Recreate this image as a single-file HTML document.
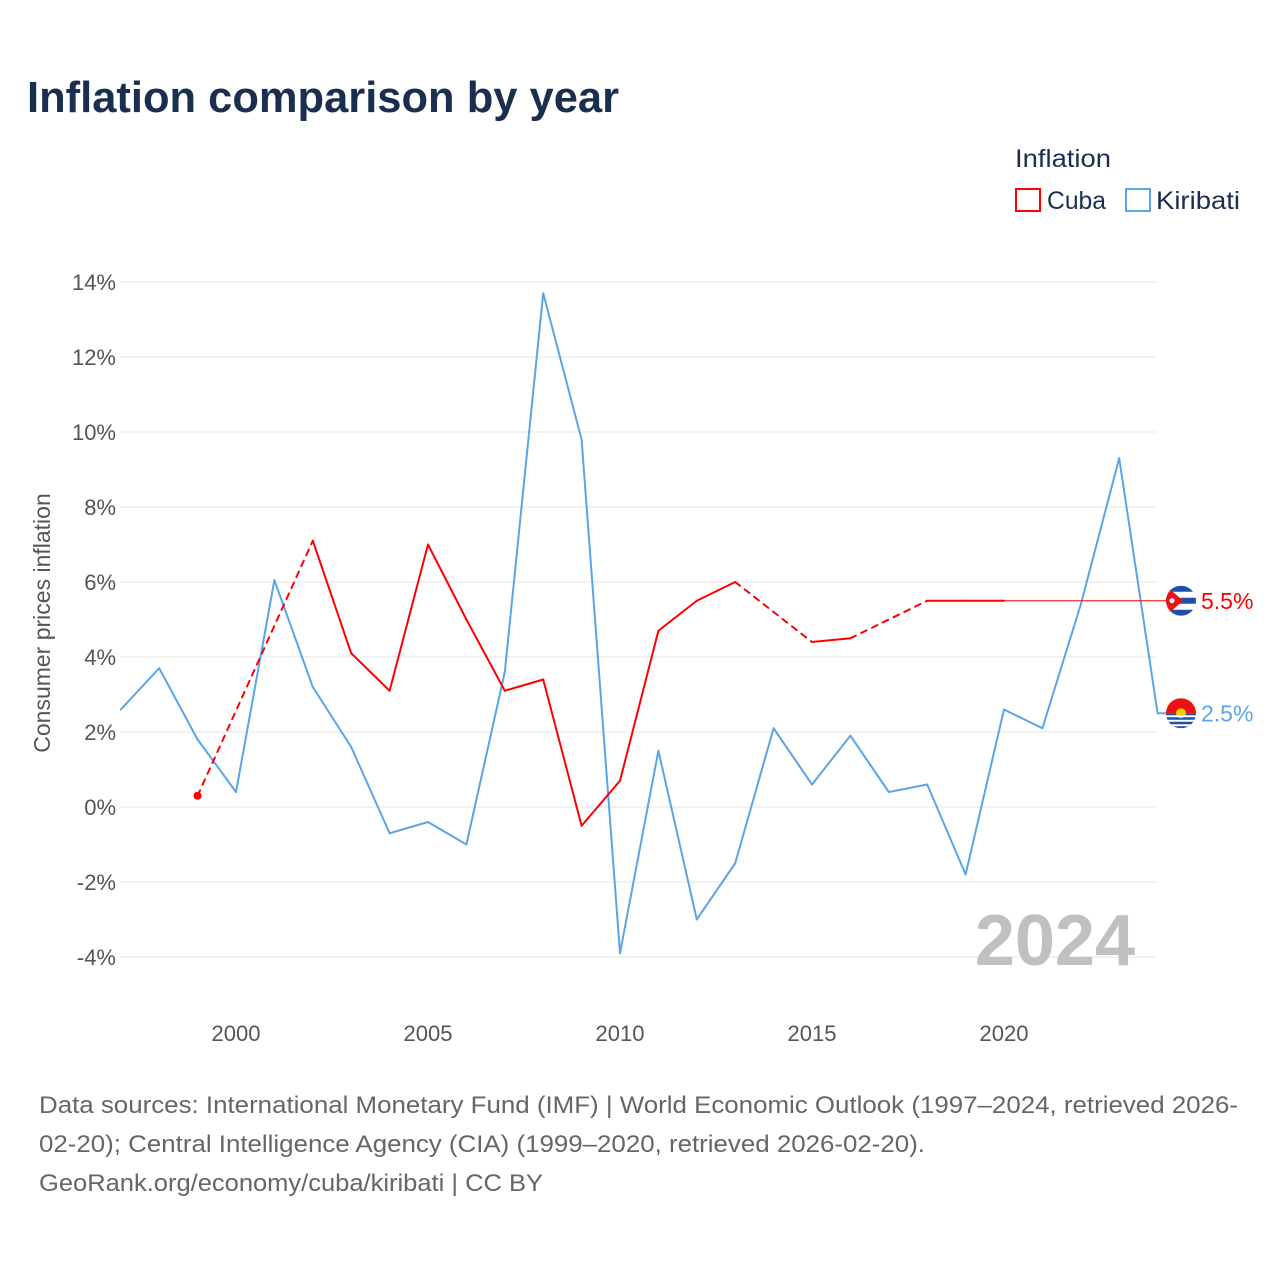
<!DOCTYPE html>
<html><head><meta charset="utf-8"><style>
body{margin:0;background:#fff;font-family:"Liberation Sans",sans-serif;}
svg text{font-family:"Liberation Sans",sans-serif;}
</style></head><body>
<svg id="c" width="1280" height="1280" xmlns="http://www.w3.org/2000/svg">
<text x="27" y="112" font-size="44" font-weight="bold" fill="#1a2e4f" textLength="592" lengthAdjust="spacingAndGlyphs">Inflation comparison by year</text>
<g>
<text x="1015" y="167" font-size="25" fill="#1a2e4f" textLength="96" lengthAdjust="spacingAndGlyphs">Inflation</text>
<g><rect x="1016" y="189" width="24" height="22" fill="none" stroke="#f00" stroke-width="2"/><text x="1047" y="209" font-size="25" fill="#1a2e4f" textLength="59" lengthAdjust="spacingAndGlyphs">Cuba</text></g>
<g><rect x="1126" y="189" width="24" height="22" fill="none" stroke="#5aa5e8" stroke-width="2"/><text x="1156" y="209" font-size="25" fill="#1a2e4f" textLength="84" lengthAdjust="spacingAndGlyphs">Kiribati</text></g>
</g>
<text transform="translate(50,623) rotate(-90)" text-anchor="middle" font-size="23" fill="#555">Consumer prices inflation</text>
<g id="grid"></g><g id="marks"></g>
<text x="1135" y="965" text-anchor="end" font-size="72" font-weight="bold" fill="#c0c0c0">2024</text>
<g font-size="24" fill="#666">
<text x="39" y="1113" textLength="1199" lengthAdjust="spacingAndGlyphs">Data sources: International Monetary Fund (IMF) | World Economic Outlook (1997–2024, retrieved 2026-</text>
<text x="39" y="1152" textLength="886" lengthAdjust="spacingAndGlyphs">02-20); Central Intelligence Agency (CIA) (1999–2020, retrieved 2026-02-20).</text>
<text x="39" y="1191" textLength="504" lengthAdjust="spacingAndGlyphs">GeoRank.org/economy/cuba/kiribati | CC BY</text>
</g>
</svg>
<script>
const years=[1997,1998,1999,2000,2001,2002,2003,2004,2005,2006,2007,2008,2009,2010,2011,2012,2013,2014,2015,2016,2017,2018,2019,2020,2021,2022,2023,2024];
const kiribati=[2.6,3.7,1.8,0.4,6.05,3.2,1.6,-0.7,-0.4,-1.0,3.6,13.7,9.8,-3.9,1.5,-3.0,-1.5,2.1,0.6,1.9,0.4,0.6,-1.8,2.6,2.1,5.4,9.3,2.5];
const cuba=[null,null,0.3,null,null,7.1,4.1,3.1,7.0,5.0,3.1,3.4,-0.5,0.7,4.7,5.5,6.0,null,4.4,4.5,null,5.5,5.5,5.5,null,null,null,null];
const cubaLatest=5.5;
const yTicks=[-4,-2,0,2,4,6,8,10,12,14];
const xTicks=[2000,2005,2010,2015,2020];
const NS="http://www.w3.org/2000/svg";
const X=y=>236+(y-2000)*38.4;
const Y=v=>807-v*37.5;
function mk(t,a,p){const e=document.createElementNS(NS,t);for(const k in a)e.setAttribute(k,a[k]);(p||document.getElementById('marks')).appendChild(e);return e;}
const grid=document.getElementById('grid');
yTicks.forEach(v=>{
 const l=mk('line',{x1:120,x2:1156,y1:Y(v),y2:Y(v),stroke:'#e6e6e6','stroke-width':1},grid);
 
 
 const t=mk('text',{x:116,y:Y(v)+8,'text-anchor':'end','font-size':22,fill:'#555'},grid);
 t.textContent=v+'%';
 
 
});
xTicks.forEach(y=>{
 const t=mk('text',{x:X(y),y:1041,'text-anchor':'middle','font-size':22,fill:'#555'},grid);
 t.textContent=y;
 
 
});
function series(vals,color,name){
 let prev=null;
 for(let i=0;i<vals.length;i++){
  if(vals[i]==null)continue;
  if(prev!==null){
   const l=mk('line',{x1:X(years[prev]),y1:Y(vals[prev]),x2:X(years[i]),y2:Y(vals[i]),stroke:color,'stroke-width':2,'stroke-linecap':'round'});
   if(i-prev>1)l.setAttribute('stroke-dasharray','6,6');
   
   
  }
  prev=i;
 }
}
series(kiribati,'#5aa5e8','kiribati');
series(cuba,'#f00','cuba');
const dot=mk('circle',{cx:X(1999),cy:Y(cuba[2]),r:4,fill:'#f00'});


const cl=mk('line',{x1:X(2020),y1:Y(cubaLatest),x2:1168,y2:Y(cubaLatest),stroke:'#f00','stroke-width':1});


const kl=mk('line',{x1:X(2024),y1:Y(kiribati[27]),x2:1168,y2:Y(kiribati[27]),stroke:'#5aa5e8','stroke-width':2});


const cy1=Y(cubaLatest), cy2=Y(kiribati[27]);
const f1=mk('g',{});


mk('defs',{},f1).innerHTML='<clipPath id="cp1"><circle cx="1181" cy="'+cy1+'" r="15"/></clipPath><clipPath id="cp2"><circle cx="1181" cy="'+cy2+'" r="15"/></clipPath>';
const g1=mk('g',{'clip-path':'url(#cp1)'},f1);
mk('rect',{x:1166,y:cy1-15,width:30,height:30,fill:'#fff'},g1);
for(let k=0;k<3;k++)mk('rect',{x:1166,y:cy1-15+k*12,width:30,height:6,fill:'#1f50a8'},g1);
mk('polygon',{points:(1166)+','+(cy1-15)+' '+(1183)+','+cy1+' '+(1166)+','+(cy1+15),fill:'#e11'},g1);
mk('circle',{cx:1172,cy:cy1,r:2.5,fill:'#fff'},g1);
const f2=mk('g',{'clip-path':'url(#cp2)'});


mk('rect',{x:1166,y:cy2-15,width:30,height:15,fill:'#e11'},f2);
mk('rect',{x:1166,y:cy2,width:30,height:15,fill:'#1f50a8'},f2);
mk('circle',{cx:1181,cy:cy2,r:5,fill:'#fc0'},f2);
for(let k=0;k<3;k++)mk('rect',{x:1166,y:cy2+2+k*4.5,width:30,height:2,fill:'#fff'},f2);
const t1=mk('text',{x:1201,y:cy1+8,'font-size':23,fill:'#f00'});
t1.textContent=cubaLatest+'%';


const t2=mk('text',{x:1201,y:cy2+8,'font-size':23,fill:'#5aa5e8'});
t2.textContent=kiribati[27]+'%';


</script>
</body></html>
